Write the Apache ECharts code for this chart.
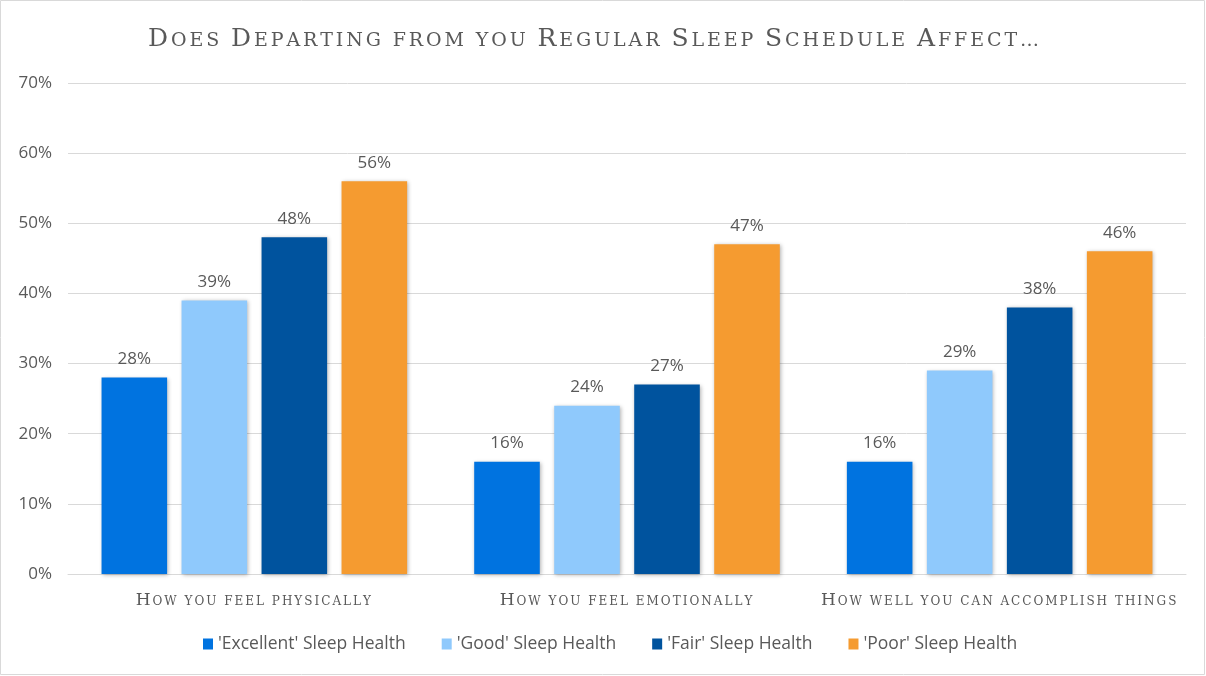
<!DOCTYPE html>
<html><head><meta charset="utf-8">
<script src="https://cdn.jsdelivr.net/npm/echarts@6/dist/echarts.min.js"></script>
<style>html,body{margin:0;padding:0;background:#fff}#c{width:1206px;height:676px}</style>
</head><body><div id="c"></div>
<script>
var titleText = "Does Departing from you Regular Sleep Schedule Affect…";
var categories = ["How you feel physically", "How you feel emotionally", "How well you can accomplish things"];
var seriesNames = ["'Excellent' Sleep Health", "'Good' Sleep Health", "'Fair' Sleep Health", "'Poor' Sleep Health"];
var excellent = [28, 16, 16];
var good = [39, 24, 29];
var fair = [48, 27, 38];
var poor = [56, 47, 46];
var colors = ["#0073E0", "#8FC9FC", "#00539E", "#F59B30"];

function smallCaps(t) {
  var out = "";
  for (var i = 0; i < t.length; i++) {
    var ch = t[i];
    if (ch >= "A" && ch <= "Z") out += "{b|" + ch + "}";
    else out += "{s|" + ch.toUpperCase() + "}";
  }
  return out;
}

var chart = echarts.init(document.getElementById('c'));
var dataSets = [excellent, good, fair, poor];
var series = seriesNames.map(function (n, i) {
  return {
    name: n, type: 'bar', data: dataSets[i],
    barGap: '22%', barCategoryGap: '18%',
    itemStyle: { color: colors[i], shadowBlur: 4, shadowColor: 'rgba(0,0,0,0.3)', shadowOffsetX: 1, shadowOffsetY: 1 },
    label: { show: true, position: 'top', distance: 10, formatter: '{c}%', color: '#595959', fontSize: 17, fontFamily: 'Open Sans' }
  };
});
chart.setOption({
  animation: false,
  color: colors,
  title: {
    text: smallCaps(titleText), left: 143, top: 22,
    textStyle: {
      fontWeight: 'normal',
      rich: {
        b: { fontFamily: 'DejaVu Serif', fontSize: 25, fontWeight: 'normal', color: '#595959', padding: [0, 2.9, 0, 0] },
        s: { fontFamily: 'DejaVu Serif', fontSize: 19, fontWeight: 'normal', color: '#595959', padding: [4, 2.9, 0, 0] }
      }
    }
  },
  graphic: [{ type: 'rect', shape: { x: 0.5, y: 0.5, width: 1204, height: 674 }, style: { fill: 'none', stroke: '#D9D9D9', lineWidth: 1 }, silent: true }],
  grid: { left: 68, right: 20, top: 83, bottom: 102 },
  legend: {
    bottom: 18, left: 198, icon: 'rect', itemWidth: 10, itemHeight: 11, itemGap: 36,
    padding: 5,
    textStyle: { color: '#595959', fontSize: 17.5, fontFamily: 'Open Sans' }
  },
  xAxis: {
    type: 'category', data: categories,
    axisTick: { show: false },
    axisLine: { lineStyle: { color: '#D9D9D9' } },
    axisLabel: {
      margin: 18, interval: 0,
      formatter: function (v) { return smallCaps(v); },
      rich: {
        b: { fontFamily: 'DejaVu Serif', fontSize: 17, color: '#595959', padding: [0, 2, 0, 0] },
        s: { fontFamily: 'DejaVu Serif', fontSize: 12, color: '#595959', padding: [3, 2, 0, 0] }
      }
    }
  },
  yAxis: {
    type: 'value', min: 0, max: 70, interval: 10,
    axisLine: { show: false }, axisTick: { show: false },
    splitLine: { lineStyle: { color: '#D9D9D9' } },
    axisLabel: { formatter: '{value}%', color: '#595959', fontSize: 17, fontFamily: 'Open Sans', margin: 16 }
  },
  series: series
});
</script></body></html>
